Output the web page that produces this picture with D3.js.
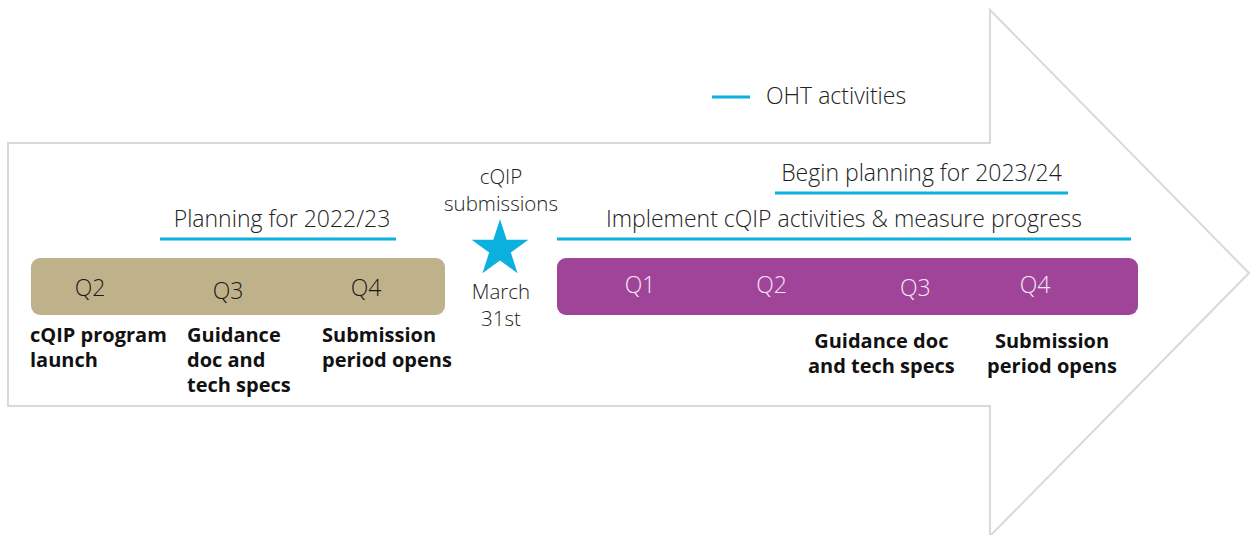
<!DOCTYPE html>
<html>
<head>
<meta charset="utf-8">
<script src="https://cdn.jsdelivr.net/npm/d3@7"></script>
<style>
  body { margin: 0; background: #fff; }
  svg text { font-family: "Open Sans", Lato, sans-serif; font-weight: 300; }
</style>
</head>
<body>
<div id="chart"></div>
<script>
// Data
const pastQuarters = ["Q2", "Q3", "Q4"];
const nextQuarters = ["Q1", "Q2", "Q3", "Q4"];
const pastMilestones = [
    ["cQIP program", "launch"],
    ["Guidance", "doc and", "tech specs"],
    ["Submission", "period opens"]
];
const nextMilestones = [null, null, ["Guidance doc", "and tech specs"], ["Submission", "period opens"]];
const activityLabels = ["Planning for 2022/23", "Implement cQIP activities & measure progress", "Begin planning for 2023/24"];
const activityStart = [160, 557, 775];
const activityEnd = [396, 1131, 1068];
const activityLevel = [0, 0, 1];
const deadlineTop = ["cQIP", "submissions"];
const deadlineBottom = ["March", "31st"];
const legendLabel = "OHT activities";

const width = 1250, height = 535;
const blue = "#0bb0de";
const tan = "#bfb28b";
const purple = "#a0449a";

const svg = d3.select("#chart").append("svg")
    .attr("width", width)
    .attr("height", height);

// Big arrow outline
const arrow = d3.line()([
    [8, 143], [990, 143], [990, 10], [1249, 273], [990, 536], [990, 406], [8, 406]
]);
svg.append("path")
    .attr("d", arrow + "Z")
    .attr("fill", "none")
    .attr("stroke", "#d9d9d9")
    .attr("stroke-width", 2);

// Legend
svg.append("line")
    .attr("x1", 712).attr("x2", 750)
    .attr("y1", 97).attr("y2", 97)
    .attr("stroke", blue).attr("stroke-width", 3);
svg.append("text")
    .attr("x", 766).attr("y", 104)
    .attr("font-size", 23).attr("fill", "#222")
    .text(legendLabel);

// Quarter bars
const bars = [
    { quarters: pastQuarters, x0: 31, x1: 445, fill: tan, text: "#1a1a1a", range: [90, 366], notes: pastMilestones, anchor: "start" },
    { quarters: nextQuarters, x0: 557, x1: 1138, fill: purple, text: "#f5e8f4", range: [640, 1035], notes: nextMilestones, anchor: "middle" }
];

bars.forEach(b => {
    const x = d3.scalePoint().domain(b.quarters.map((q, i) => i)).range(b.range);
    svg.append("rect")
        .attr("x", b.x0).attr("y", 258)
        .attr("width", b.x1 - b.x0).attr("height", 57)
        .attr("rx", 9)
        .attr("fill", b.fill);
    svg.selectAll(null)
        .data(b.quarters)
        .enter()
        .append("text")
        .attr("x", (d, i) => x(i) + (b.anchor === "middle" && i === 2 ? 12 : 0))
        .attr("y", (d, i) => (b.anchor === "start" ? 296 : 293) + (d === "Q3" ? 3 : 0))
        .attr("text-anchor", "middle")
        .attr("font-size", 23)
        .attr("fill", b.text)
        .text(d => d);

    // Milestone notes under the bar
    b.notes.forEach((lines, i) => {
        if (!lines) return;
        const tx = b.anchor === "start" ? [30, 187, 322][i] : x(i) + [0, 0, -22, 17][i];
        const ty = b.anchor === "start" ? 342 : 348;
        svg.selectAll(null)
            .data(lines)
            .enter()
            .append("text")
            .attr("x", tx)
            .attr("y", (l, j) => ty + j * 25)
            .attr("font-size", 20)
            .style("font-weight", 700)
            .attr("fill", "#111")
            .attr("text-anchor", b.anchor)
            .text(l => l);
    });
});

// Activity lines with labels
activityLabels.forEach((label, i) => {
    const y = 239 - activityLevel[i] * 46;
    svg.append("line")
        .attr("x1", activityStart[i]).attr("x2", activityEnd[i])
        .attr("y1", y).attr("y2", y)
        .attr("stroke", blue).attr("stroke-width", 3);
    svg.append("text")
        .attr("x", (activityStart[i] + activityEnd[i]) / 2 + [4, 0, 0][i])
        .attr("y", y - 12)
        .attr("text-anchor", "middle")
        .attr("font-size", 23)
        .attr("fill", "#222")
        .text(label);
});

// Submission deadline star
svg.append("path")
    .attr("d", d3.symbol(d3.symbolStar, 1000)())
    .attr("transform", "translate(500,249)")
    .attr("fill", blue);

const deadlineLines = deadlineTop.map((l, j) => ({ text: l, y: 184 + j * 27 }))
    .concat(deadlineBottom.map((l, j) => ({ text: l, y: 299 + j * 27 })));
svg.selectAll(null)
    .data(deadlineLines)
    .enter()
    .append("text")
    .attr("x", 501)
    .attr("y", d => d.y)
    .attr("text-anchor", "middle")
    .attr("font-size", 20.5)
    .attr("fill", "#222")
    .text(d => d.text);
</script>
</body>
</html>
